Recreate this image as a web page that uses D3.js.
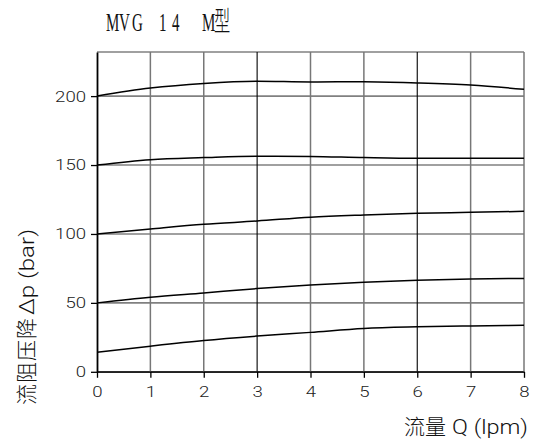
<!DOCTYPE html>
<html><head><meta charset="utf-8">
<script src="https://cdn.jsdelivr.net/npm/d3@7"></script>
<style>
html,body{margin:0;padding:0;background:#fff;}
svg{display:block;}
</style></head>
<body>
<svg id="chart" width="533" height="439"></svg>
<script>
// ---- data ----
const flow = [0, 1, 2, 3, 4, 5, 6, 7, 8];
const curve200 = [200, 205.8, 209.2, 210.8, 210.3, 210.5, 209.6, 208.0, 204.9];
const curve150 = [150, 153.9, 155.4, 156.4, 156.2, 155.4, 154.9, 155.0, 154.9];
const curve100 = [100, 103.6, 107.0, 109.4, 112.2, 113.8, 115.0, 115.7, 116.4];
const curve50  = [50, 54.1, 57.2, 60.4, 62.9, 65.0, 66.4, 67.3, 67.7];
const curve14  = [14.1, 18.6, 22.7, 25.9, 28.6, 31.4, 32.6, 33.3, 33.7];
const xTicks = [0, 1, 2, 3, 4, 5, 6, 7, 8];
const yTicks = [0, 50, 100, 150, 200];
const yMax = 232;
const darkGridX = [3, 6];
const titleLatin = "MVG 14 M", titleCJK = "型";
const xLabelCJK = "流量", xLabelLatin = "Q (lpm)";
const yLabelCJK = "流阻压降", yLabelLatin = "Δp (bar)";

const svg = d3.select("#chart");
const x = d3.scaleLinear().domain([0, 8]).range([97, 524]);
const y = d3.scaleLinear().domain([0, yMax]).range([371.8, 52]);

// horizontal grid
svg.append("g").selectAll("line").data(yTicks.concat([yMax])).join("line")
  .attr("x1", x(0)).attr("x2", x(8))
  .attr("y1", d => y(d)).attr("y2", d => y(d))
  .attr("stroke", d => d === 0 ? "#333" : "#808080").attr("stroke-width", 1.6);
// vertical grid
svg.append("g").selectAll("line").data(xTicks.filter(d => d > 0)).join("line")
  .attr("x1", d => x(d)).attr("x2", d => x(d))
  .attr("y1", y(0)).attr("y2", y(yMax))
  .attr("stroke", d => darkGridX.includes(d) ? "#000" : "#777")
  .attr("stroke-width", d => darkGridX.includes(d) ? 1.1 : 1.5);

// axes
const sx = 1.2;
const tickFont = "Roboto, 'Liberation Sans', Arial, sans-serif";
const gx = svg.append("g").attr("transform", `translate(0,${y(0)})`)
  .call(d3.axisBottom(x).tickValues(xTicks).tickSize(6).tickSizeOuter(0).tickFormat(d3.format("d")));
gx.select(".domain").attr("stroke", "#222").attr("stroke-width", 1.6);
gx.selectAll(".tick line").attr("stroke", "#000").attr("stroke-width", 1.3);
gx.selectAll(".tick text").attr("y", 14.5).attr("transform", `scale(${sx},1)`)
  .attr("font-family", tickFont).attr("font-weight", 300).attr("font-size", 15.5).attr("fill", "#222");

const gy = svg.append("g").attr("transform", `translate(${x(0)},0)`)
  .call(d3.axisLeft(y).tickValues(yTicks).tickSize(6).tickSizeOuter(0).tickFormat(d3.format("d")));
gy.select(".domain").attr("stroke", "#000").attr("stroke-width", 1.8);
gy.selectAll(".tick line").attr("stroke", "#000").attr("stroke-width", 1.3);
gy.selectAll(".tick text").attr("x", -11 / sx).attr("transform", `scale(${sx},1)`)
  .attr("font-family", tickFont).attr("font-weight", 300).attr("font-size", 15.5).attr("fill", "#222");

// curves
const series = [curve200, curve150, curve100, curve50, curve14];
const line = d3.line().x((d, i) => x(flow[i])).y(d => y(d)).curve(d3.curveMonotoneX);
svg.append("g").selectAll("path").data(series).join("path")
  .attr("d", line).attr("fill", "none").attr("stroke", "#000").attr("stroke-width", 1.5);

// title (monospaced, condensed serif look)
const tsx = 0.6;
const titleX = [106, 119, 132, 145, 159, 172, 185, 202];
const tt = svg.append("text").attr("transform", `scale(${tsx},1)`).attr("y", 31)
  .attr("fill", "#111").attr("xml:space", "preserve");
tt.append("tspan").attr("x", titleX.map(v => (v / tsx).toFixed(1)).join(" "))
  .attr("font-family", "'Liberation Serif', serif").attr("font-size", 25).text(titleLatin);
tt.append("tspan").attr("x", (214 / tsx).toFixed(1))
  .attr("font-family", "'Noto Sans CJK SC', sans-serif").attr("font-size", 27).attr("font-weight", 300)
  .text(titleCJK);

// x label
svg.append("text").attr("x", 404).attr("y", 434)
  .attr("font-family", "'Noto Sans CJK SC', sans-serif").attr("font-size", 21).attr("font-weight", 300)
  .attr("fill", "#111").text(xLabelCJK);
svg.append("text").attr("x", 452).attr("y", 434)
  .attr("font-family", tickFont).attr("font-size", 20).attr("font-weight", 300)
  .attr("textLength", 76).attr("lengthAdjust", "spacingAndGlyphs")
  .attr("fill", "#111").text(xLabelLatin);

// y label
svg.append("text").attr("transform", "translate(34,405) rotate(-90)")
  .attr("font-family", "'Noto Sans CJK SC', sans-serif").attr("font-size", 21).attr("font-weight", 300)
  .attr("letter-spacing", 1).attr("fill", "#111").text(yLabelCJK);
svg.append("text").attr("transform", "translate(34,315) rotate(-90)")
  .attr("font-family", tickFont).attr("font-size", 20).attr("font-weight", 300)
  .attr("textLength", 86).attr("lengthAdjust", "spacingAndGlyphs")
  .attr("fill", "#111").text(yLabelLatin);
</script>
</body></html>
